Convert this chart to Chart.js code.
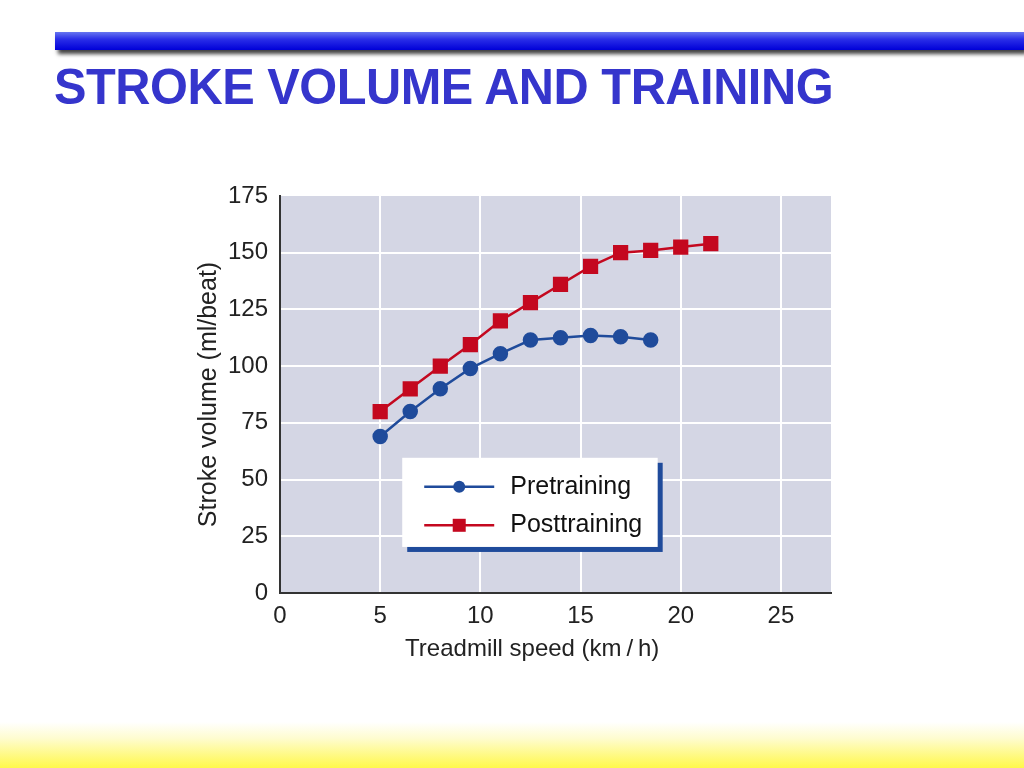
<!DOCTYPE html>
<html>
<head>
<meta charset="utf-8">
<script src="https://cdn.jsdelivr.net/npm/chart.js@4/dist/chart.umd.min.js"></script>
<style>
  html, body { margin: 0; padding: 0; background: #fff; }
  body { width: 1024px; height: 768px; position: relative; overflow: hidden; font-family: "Liberation Sans", Arial, sans-serif; }
  .topbar {
    position: absolute; left: 55px; top: 32px; width: 969px; height: 18px;
    background: linear-gradient(to bottom, #6675f0 0%, #2a2ee8 40%, #0000d8 100%);
    box-shadow: 3px 4px 4px rgba(0,0,0,0.75);
  }
  .title {
    position: absolute; left: 54px; top: 58px; margin: 0;
    font-family: "Liberation Sans", Arial, sans-serif; font-weight: bold; font-size: 50px;
    color: #3535cc; letter-spacing: -0.5px; white-space: nowrap;
    transform: scaleX(0.975); transform-origin: left top;
  }
  .footer {
    position: absolute; left: 0; top: 722px; width: 1024px; height: 46px;
    background: linear-gradient(to bottom, rgba(255,255,255,0) 0%, #fefcd0 35%, #fff84a 100%);
  }
  #chart { position: absolute; left: 0; top: 0; }
</style>
</head>
<body>
<div class="topbar"></div>
<h1 class="title">STROKE VOLUME AND TRAINING</h1>
<div class="footer"></div>
<canvas id="chart" width="1024" height="768"></canvas>
<script>
// treadmill speeds (km/h) and stroke volumes (ml/beat)
const speeds = [5, 6.5, 8, 9.5, 11, 12.5, 14, 15.5, 17, 18.5, 20, 21.5];
const preValues = [69, 80, 90, 99, 105.5, 111.5, 112.5, 113.5, 113, 111.5];
const postValues = [80, 90, 100, 109.5, 120, 128, 136, 144, 150, 151, 152.5, 154];
const seriesNames = ['Pretraining', 'Posttraining'];
const xTicks = [0, 5, 10, 15, 20, 25];
const yTicks = [0, 25, 50, 75, 100, 125, 150, 175];

const blue = '#1f4b9b';
const red = '#c4081f';
const fontFamily = '"Liberation Sans", Arial, sans-serif';

// plot background + custom boxed legend
const plotBg = {
  id: 'plotBg',
  beforeDraw(chart) {
    const a = chart.chartArea, c = chart.ctx;
    c.save();
    c.fillStyle = '#d4d6e4';
    c.fillRect(a.left, a.top, a.right - a.left, a.bottom - a.top);
    c.restore();
  }
};

const boxLegend = {
  id: 'boxLegend',
  afterDatasetsDraw(chart) {
    const c = chart.ctx;
    const x = chart.scales.x, y = chart.scales.y;
    const left = x.getPixelForValue(6.1), right = x.getPixelForValue(18.85);
    const top = y.getPixelForValue(59.6), bottom = y.getPixelForValue(20.3);
    c.save();
    c.fillStyle = blue;
    c.fillRect(left + 5, top + 5, right - left, bottom - top);
    c.fillStyle = '#fff';
    c.fillRect(left, top, right - left, bottom - top);
    chart.data.datasets.forEach((ds, i) => {
      const ly = top + 29 + i * 38.5;
      c.strokeStyle = ds.borderColor;
      c.lineWidth = 2.5;
      c.beginPath();
      c.moveTo(left + 22, ly);
      c.lineTo(left + 92, ly);
      c.stroke();
      c.fillStyle = ds.backgroundColor;
      if (ds.pointStyle === 'rect') {
        c.fillRect(left + 57 - 6.5, ly - 6.5, 13, 13);
      } else {
        c.beginPath();
        c.arc(left + 57, ly, 6, 0, Math.PI * 2);
        c.fill();
      }
      c.fillStyle = '#111';
      c.font = '25px ' + fontFamily;
      c.textBaseline = 'middle';
      c.fillText(ds.label, left + 108, ly);
    });
    c.restore();
  }
};

const ctx = document.getElementById('chart').getContext('2d');
const chart = new Chart(ctx, {
  type: 'line',
  data: {
    datasets: [{
      label: seriesNames[0],
      data: preValues.map((v, i) => ({ x: speeds[i], y: v })),
      borderColor: blue,
      backgroundColor: blue,
      borderWidth: 2.5,
      pointStyle: 'circle',
      pointRadius: 6.5,
      tension: 0
    }, {
      label: seriesNames[1],
      data: postValues.map((v, i) => ({ x: speeds[i], y: v })),
      borderColor: red,
      backgroundColor: red,
      borderWidth: 2.5,
      pointStyle: 'rect',
      pointRadius: 9,
      tension: 0
    }]
  },
  options: {
    responsive: false,
    animation: false,
    layout: { padding: { left: 190, right: 193, top: 196, bottom: 100 } },
    plugins: {
      legend: { display: false },
      tooltip: { enabled: false }
    },
    scales: {
      x: {
        type: 'linear',
        min: 0,
        max: 27.5,
        afterBuildTicks: s => { s.ticks = xTicks.map(v => ({ value: v })); },
        afterFit: s => { s.height = 75; },
        ticks: { color: '#222', font: { size: 24, family: fontFamily }, padding: 9, maxRotation: 0 },
        grid: { color: c => c.tick && c.tick.value === 0 ? 'transparent' : '#ffffff', lineWidth: 2, drawTicks: false },
        border: { color: '#333', width: 2 },
        // trailing no-break spaces nudge the centred title left, as in the source figure
        title: { display: true, text: 'Treadmill speed (km\u2009/\u2009h)' + '\u00a0'.repeat(7), color: '#222', font: { size: 24, family: fontFamily }, padding: { top: 4 } }
      },
      y: {
        min: 0,
        max: 175,
        afterBuildTicks: s => { s.ticks = yTicks.map(v => ({ value: v })); },
        afterFit: s => { s.width = 90; },
        ticks: { color: '#222', font: { size: 24, family: fontFamily }, padding: 12 },
        grid: { color: c => c.tick && (c.tick.value === 0 || c.tick.value === 175) ? 'transparent' : '#ffffff', lineWidth: 2, drawTicks: false },
        border: { color: '#333', width: 2 },
        title: { display: true, text: 'Stroke volume (ml/beat)', color: '#222', font: { size: 25, family: fontFamily }, padding: { bottom: 4 } }
      }
    }
  },
  plugins: [plotBg, boxLegend]
});
</script>
</body>
</html>
